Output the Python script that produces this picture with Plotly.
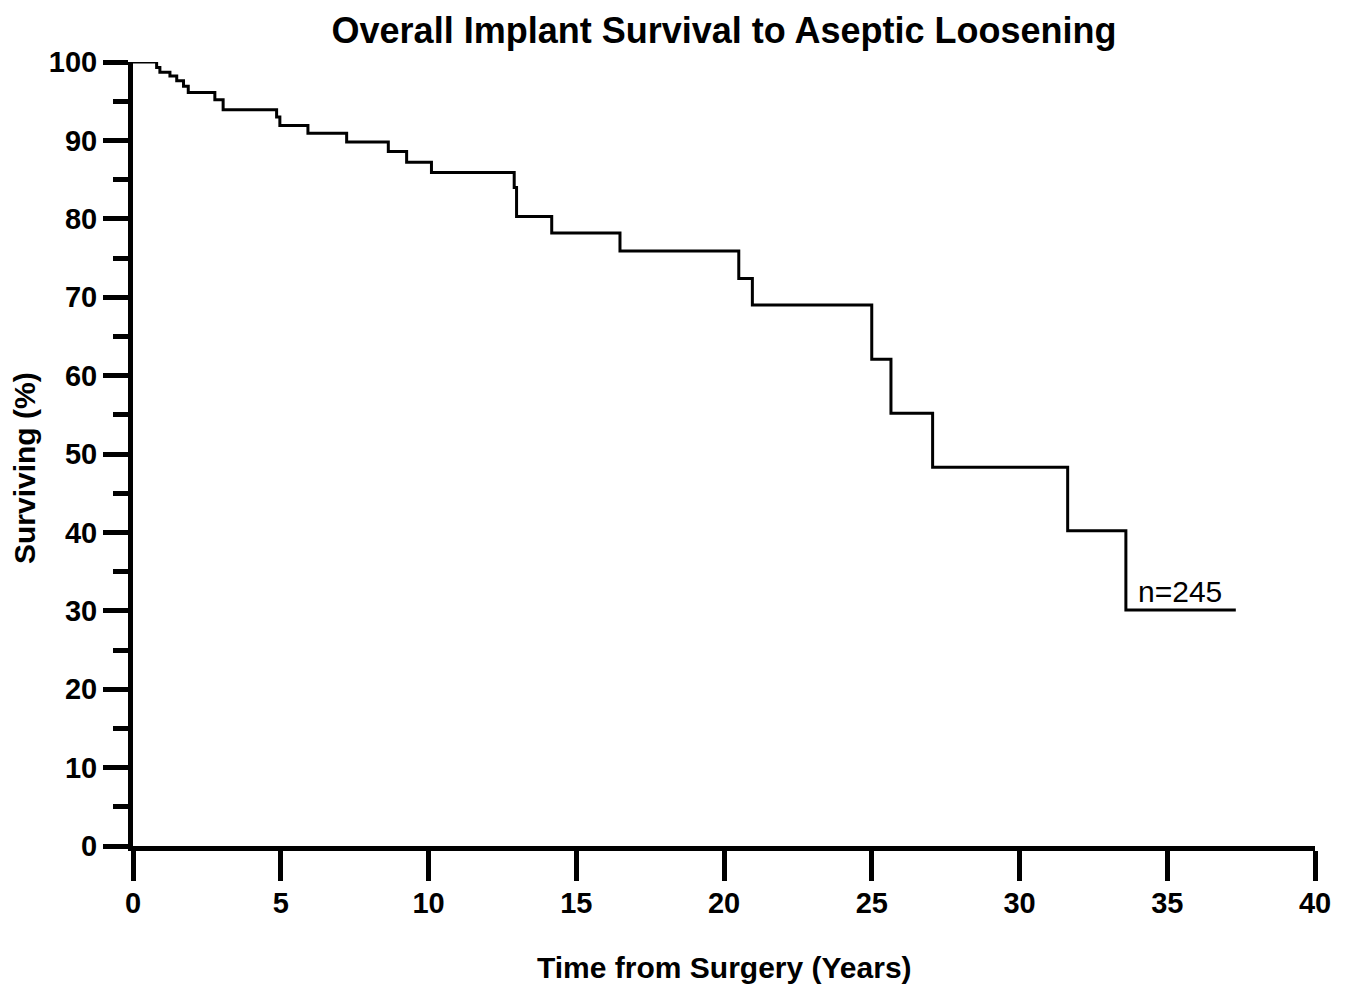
import plotly.graph_objects as go

# Kaplan-Meier step data (time in years, survival %)
years = [0, 0.80, 0.91, 1.25, 1.48, 1.71, 1.87, 2.77, 3.05, 4.86, 4.97, 5.92,
         7.23, 8.64, 9.26, 10.10, 12.90, 12.98, 14.17, 16.48, 20.50, 20.96,
         25.00, 25.65, 27.06, 31.63, 33.60, 37.32]
surviving = [100, 99.3, 98.7, 98.2, 97.6, 96.9, 96.1, 95.2, 93.9, 93.0, 91.9, 90.9,
             89.8, 88.6, 87.2, 85.9, 84.0, 80.3, 78.2, 75.9, 72.4, 69.0,
             62.1, 55.2, 48.3, 40.2, 30.1, 30.1]

x_ticks = [0, 5, 10, 15, 20, 25, 30, 35, 40]
y_ticks = [0, 10, 20, 30, 40, 50, 60, 70, 80, 90, 100]

title_text = "Overall Implant Survival to Aseptic Loosening"
x_title = "Time from Surgery (Years)"
y_title = "Surviving (%)"
n_label = "n=245"

FONT = "Liberation Sans, Arial, Helvetica, sans-serif"

# page body has an 8px margin; figure is laid out so the plot lands where the reference has it
W, H = 1342, 982
PLOT_H = 784

fig = go.Figure()
fig.add_trace(go.Scatter(
    x=years, y=surviving, mode="lines", line=dict(shape="hv", color="black", width=3),
    cliponaxis=False, showlegend=False, hoverinfo="x+y"))

fig.add_annotation(x=33.95, y=32.4, xref="x", yref="y", text=n_label, showarrow=False,
                   xanchor="left", yanchor="middle",
                   font=dict(family=FONT, size=30, color="black"))

fig.add_annotation(x=0.5, y=-(967 - 846) / PLOT_H, xref="paper", yref="paper", text=x_title,
                   showarrow=False, xanchor="center", yanchor="middle",
                   font=dict(family=FONT, size=30, color="black", weight="bold"))
fig.add_annotation(x=0, xshift=-108, y=(846 - 468) / PLOT_H, xref="paper", yref="paper",
                   text=y_title, textangle=-90, showarrow=False,
                   xanchor="center", yanchor="middle",
                   font=dict(family=FONT, size=30, color="black", weight="bold"))

fig.update_layout(
    width=W, height=H,
    margin=dict(l=125, r=35, t=54, b=144),
    paper_bgcolor="white", plot_bgcolor="white",
    title=dict(text=title_text, x=0.5, xref="paper", xanchor="center",
               y=1 - 22 / H, yref="container", yanchor="middle",
               font=dict(family=FONT, size=36, color="black", weight="bold")),
    xaxis=dict(range=[0, 40], tickvals=x_ticks, ticktext=[str(v) for v in x_ticks],
               showgrid=False, zeroline=False, showline=True, linecolor="black", linewidth=5,
               ticks="outside", ticklen=30, tickwidth=5, tickcolor="black",
               ticklabelstandoff=-3,
               tickfont=dict(family=FONT, size=29, color="black", weight="bold")),
    yaxis=dict(range=[0, 100], tickvals=y_ticks, ticktext=[str(v) for v in y_ticks],
               showgrid=False, zeroline=False, showline=True, linecolor="black", linewidth=5,
               ticks="outside", ticklen=25, tickwidth=5, tickcolor="black",
               tickfont=dict(family=FONT, size=29, color="black", weight="bold"),
               minor=dict(dtick=5, tick0=0, ticks="outside", ticklen=15, tickwidth=5,
                          tickcolor="black", showgrid=False)),
)

fig.write_html("out.html")
